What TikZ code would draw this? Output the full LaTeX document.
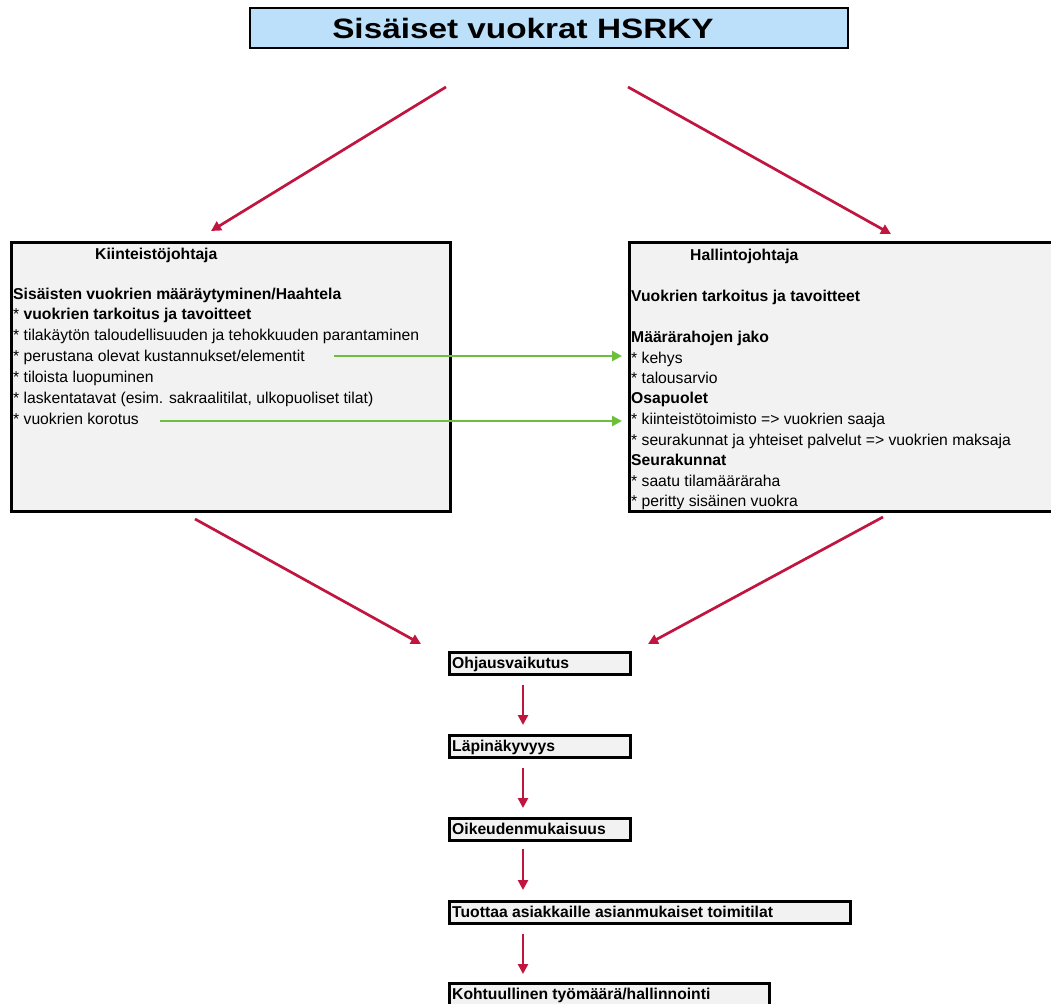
\documentclass[tikz,border=0pt]{standalone}
\usepackage{fontspec}
\setmainfont{Liberation Sans}
\newfontfamily\titlefont[FakeStretch=1.19]{Liberation Sans}
\usetikzlibrary{arrows.meta}
\definecolor{redarr}{HTML}{C0153F}
\definecolor{greenarr}{HTML}{6DBE3A}
\definecolor{titleblue}{HTML}{BDE0FA}
\definecolor{boxgray}{HTML}{F2F2F2}
\tikzset{
  bigbox/.style={draw=black, line width=2.5pt, fill=boxgray, inner sep=0pt, anchor=north west},
  smallbox/.style={draw=black, line width=2.8pt, fill=boxgray, inner sep=0pt, anchor=north west, minimum height=22pt},
  txt/.style={anchor=base west, inner sep=0pt, font=\fontsize{15.7}{18}\selectfont},
  btxt/.style={txt, font=\fontsize{15.7}{18}\selectfont\bfseries},
  redarrow/.style={draw=redarr, line width=2.7pt, -{Triangle[length=10pt,width=10pt]}},
  greenarrow/.style={draw=greenarr, line width=2.7pt, -{Triangle[length=10pt,width=10pt]}},
}
\begin{document}
\begin{tikzpicture}[x=1pt,y=-1pt]
\clip (0,0) rectangle (1051,1003);
\fill[white] (0,0) rectangle (1051,1003);

% title
\node[draw=black, line width=2.2pt, fill=titleblue, minimum width=598pt, minimum height=40pt, inner sep=0pt] (title) at (549,28) {};
\node[inner sep=0pt, font=\titlefont\fontsize{28}{32}\selectfont\bfseries] (titletext) at (523,28) {Sisäiset vuokrat HSRKY};

% big boxes
\node[bigbox, minimum width=439pt, minimum height=269pt] (L) at (10,241) {};
\node[bigbox, minimum width=440pt, minimum height=269pt] (R) at (628,241) {};

% left texts
\node[btxt] (l0) at (95,259) {Kiinteistöjohtaja};
\node[btxt] (l1) at (13,299) {Sisäisten vuokrien määräytyminen/Haahtela};
\node[txt]  (l2) at (13,319) {* \textbf{vuokrien tarkoitus ja tavoitteet}};
\node[txt]  (l3) at (13,340) {* tilakäytön taloudellisuuden ja tehokkuuden parantaminen};
\node[txt]  (l4) at (13,361) {* perustana olevat kustannukset/elementit};
\node[txt]  (l5) at (13,382) {* tiloista luopuminen};
\node[txt]  (l6) at (13,403) {* laskentatavat (esim. sakraalitilat, ulkopuoliset tilat)};
\node[txt]  (l7) at (13,424) {* vuokrien korotus};

% right texts
\node[btxt] (r0) at (690,260) {Hallintojohtaja};
\node[btxt] (r1) at (631,301) {Vuokrien tarkoitus ja tavoitteet};
\node[btxt] (r2) at (631,342) {Määrärahojen jako};
\node[txt]  (r3) at (631,363) {* kehys};
\node[txt]  (r4) at (631,383) {* talousarvio};
\node[btxt] (r5) at (631,403) {Osapuolet};
\node[txt]  (r6) at (631,424) {* kiinteistötoimisto => vuokrien saaja};
\node[txt]  (r7) at (631,445) {* seurakunnat ja yhteiset palvelut => vuokrien maksaja};
\node[btxt] (r8) at (631,465) {Seurakunnat};
\node[txt]  (r9) at (631,486) {* saatu tilamääräraha};
\node[txt]  (r10) at (631,506) {* peritty sisäinen vuokra};

% small boxes
\node[smallbox, minimum width=181pt] (s1) at (448,651) {};
\node[btxt] (s1t) at (452,668) {Ohjausvaikutus};
\node[smallbox, minimum width=181pt] (s2) at (448,734) {};
\node[btxt] (s2t) at (452,751) {Läpinäkyvyys};
\node[smallbox, minimum width=181pt] (s3) at (448,817) {};
\node[btxt] (s3t) at (452,834) {Oikeudenmukaisuus};
\node[smallbox, minimum width=401pt] (s4) at (448,900) {};
\node[btxt] (s4t) at (452,917) {Tuottaa asiakkaille asianmukaiset toimitilat};
\node[smallbox, minimum width=320pt] (s5) at (448,982) {};
\node[btxt] (s5t) at (452,999) {Kohtuullinen työmäärä/hallinnointi};

% arrows from title
\coordinate (ta1) at (446,87);
\coordinate (ta2) at (628,87);
\coordinate (La) at (211,231);
\coordinate (Ra) at (891,234);
\draw[redarrow] (ta1) -- (La);
\draw[redarrow] (ta2) -- (Ra);

% arrows to Ohjausvaikutus
\coordinate (lb) at (195,519);
\coordinate (rb) at (883,517);
\coordinate (s1l) at (421,644);
\coordinate (s1r) at (648,644);
\draw[redarrow] (lb) -- (s1l);
\draw[redarrow] (rb) -- (s1r);

% green arrows
\coordinate (g1) at (334,356);
\coordinate (g2) at (160,421);
\draw[greenarrow] (g1) -- ([xshift=-6pt]g1 -| R.west);
\draw[greenarrow] (g2) -- ([xshift=-6pt]g2 -| R.west);

% vertical arrows
\coordinate (ax) at (523,0);
\draw[redarrow] ([yshift=-9pt]s1.south -| ax) -- ([yshift=9pt]s2.north -| ax);
\draw[redarrow] ([yshift=-9pt]s2.south -| ax) -- ([yshift=9pt]s3.north -| ax);
\draw[redarrow] ([yshift=-7pt]s3.south -| ax) -- ([yshift=10pt]s4.north -| ax);
\draw[redarrow] ([yshift=-9pt]s4.south -| ax) -- ([yshift=8pt]s5.north -| ax);
\end{tikzpicture}
\end{document}
